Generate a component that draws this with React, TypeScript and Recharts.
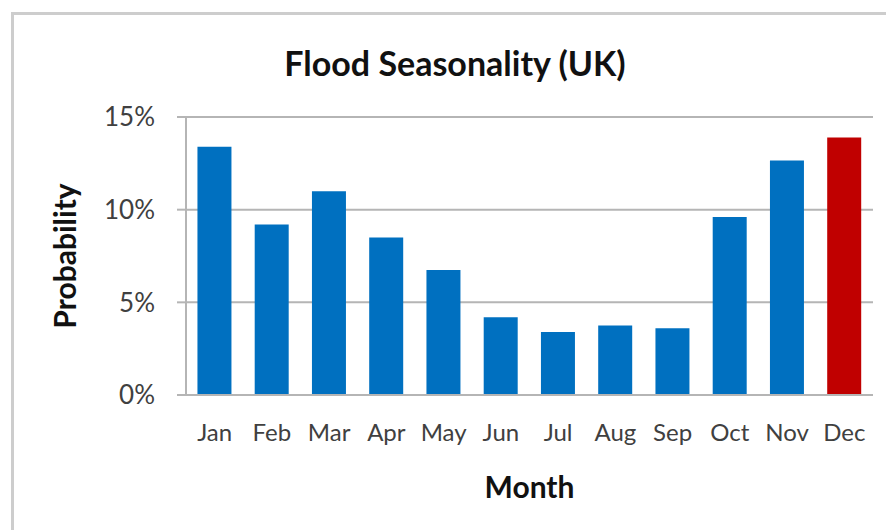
import React from "react";
import { BarChart, Bar, XAxis, YAxis, CartesianGrid, Cell } from "recharts";

const months = ["Jan", "Feb", "Mar", "Apr", "May", "Jun", "Jul", "Aug", "Sep", "Oct", "Nov", "Dec"];
const probability = [13.4, 9.2, 11.0, 8.5, 6.75, 4.2, 3.4, 3.75, 3.6, 9.6, 12.65, 13.9];
const highlightMonth = "Dec";
const yTicks = [0, 5, 10, 15];

const data = months.map((m, i) => ({ month: m, value: probability[i] }));

const FONT = "Lato, 'Open Sans', sans-serif";
const BLUE = "#0070C0";
const RED = "#C00000";
const GRID = "#b5b5b5";

const App: React.FC = () => {
  return (
    <div
      style={{
        position: "absolute",
        left: 0,
        top: 0,
        width: 886,
        height: 530,
        overflow: "hidden",
        background: "#fff",
        fontFamily: FONT,
      }}
    >
      <div
        style={{
          position: "absolute",
          left: 11,
          top: 12,
          width: 1000,
          height: 1000,
          border: "3px solid #cdcdcd",
        }}
      />
      <div
        style={{
          position: "absolute",
          left: 0,
          width: 910,
          top: 43,
          textAlign: "center",
          fontSize: 34,
          lineHeight: "40px",
          fontWeight: 700,
          color: "#111",
        }}
      >
        Flood Seasonality (UK)
      </div>
      <div style={{ position: "absolute", left: 0, top: 0 }}>
        <BarChart
          width={886}
          height={530}
          data={data}
          margin={{ top: 117, right: 13, left: 0, bottom: 0 }}
          barCategoryGap="20%"
        >
          <CartesianGrid horizontal vertical={false} stroke={GRID} strokeWidth={2} />
          <XAxis
            dataKey="month"
            height={135}
            tickLine={false}
            tickSize={0}
            tickMargin={29}
            axisLine={{ stroke: GRID, strokeWidth: 2 }}
            tick={{ fill: "#404040", fontSize: 24, fontFamily: FONT }}
            interval={0}
            label={{
              value: "Month",
              position: "insideBottom",
              offset: 32,
              style: { fill: "#111", fontSize: 30, fontWeight: 700, fontFamily: FONT },
            }}
          />
          <YAxis
            width={186}
            domain={[0, 15]}
            ticks={yTicks}
            tickFormatter={(v: number) => `${v}%`}
            tickSize={9}
            tickMargin={22}
            tickLine={{ stroke: GRID, strokeWidth: 2 }}
            axisLine={{ stroke: GRID, strokeWidth: 2 }}
            tick={{ fill: "#404040", fontSize: 26, fontFamily: FONT }}
            label={{
              value: "Probability",
              angle: -90,
              position: "insideLeft",
              offset: 65,
              style: { textAnchor: "middle", fill: "#111", fontSize: 30, fontWeight: 700, fontFamily: FONT },
            }}
          />
          <Bar dataKey="value" isAnimationActive={false}>
            {data.map((d) => (
              <Cell key={d.month} fill={d.month === highlightMonth ? RED : BLUE} />
            ))}
          </Bar>
        </BarChart>
      </div>
    </div>
  );
};

export default App;
